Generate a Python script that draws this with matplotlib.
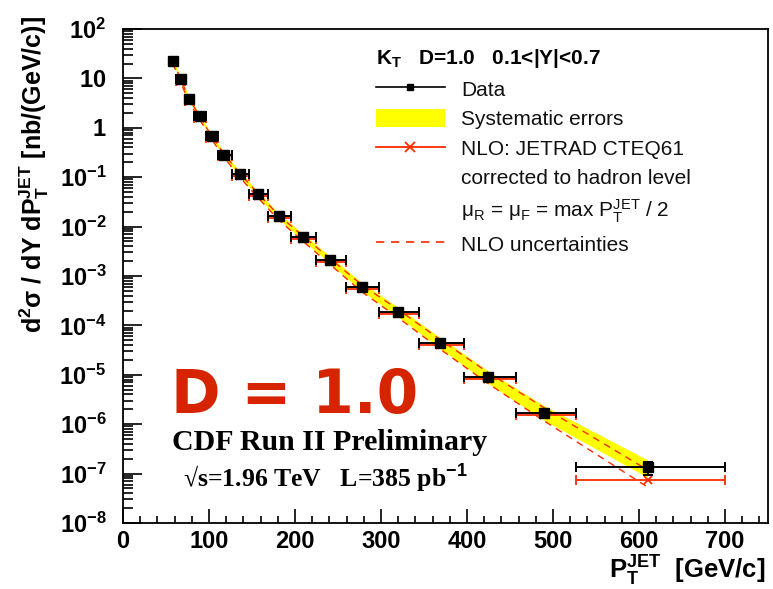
import matplotlib
matplotlib.use("Agg")
import matplotlib.pyplot as plt
import matplotlib.patches as mpatches
from matplotlib.lines import Line2D
from matplotlib.ticker import FixedLocator, LogLocator, MultipleLocator, NullFormatter
import numpy as np

plt.rcParams['font.family'] = ['Liberation Sans', 'DejaVu Sans']
plt.rcParams['mathtext.fontset'] = 'custom'
plt.rcParams['mathtext.rm'] = 'Liberation Sans'
plt.rcParams['mathtext.it'] = 'Liberation Sans:italic'
plt.rcParams['mathtext.bf'] = 'Liberation Sans:bold'
plt.rcParams['axes.unicode_minus'] = False

# CDF Run II, kT D=1.0, 0.1<|Y|<0.7
pt = [58, 67, 77, 89, 103, 118, 136, 157, 181, 209, 241, 278, 320, 369, 425, 490, 610]
bin_lo = [54, 62, 72, 83, 96, 110, 127, 146, 169, 195, 224, 259, 298, 344, 396, 457, 527]
bin_hi = [62, 72, 83, 96, 110, 127, 146, 169, 195, 224, 259, 298, 344, 396, 457, 527, 700]
xsec = [23.0, 9.6, 3.8, 1.7, 0.67, 0.28, 0.115, 0.045, 0.0163, 0.0062, 0.0021,
        6.0e-4, 1.87e-4, 4.4e-5, 9.0e-6, 1.7e-6, 1.35e-7]
stat_frac = [0.01, 0.01, 0.01, 0.01, 0.01, 0.01, 0.01, 0.01, 0.01, 0.01, 0.02,
             0.02, 0.03, 0.04, 0.06, 0.10, 0.30]
sys_up = [0.10, 0.10, 0.10, 0.10, 0.10, 0.11, 0.12, 0.13, 0.14, 0.16, 0.18,
          0.21, 0.24, 0.28, 0.32, 0.38, 0.40]
sys_dn = [0.09, 0.09, 0.09, 0.09, 0.09, 0.10, 0.11, 0.12, 0.13, 0.14, 0.16,
          0.18, 0.20, 0.23, 0.26, 0.30, 0.38]
nlo = [21.5, 8.9, 3.55, 1.6, 0.63, 0.265, 0.108, 0.042, 0.0152, 0.0057, 0.00193,
       5.5e-4, 1.7e-4, 4.0e-5, 8.2e-6, 1.5e-6, 7.4e-8]
nlo_up_frac = [0.08, 0.08, 0.08, 0.08, 0.08, 0.09, 0.10, 0.11, 0.12, 0.14, 0.16,
               0.19, 0.23, 0.28, 0.34, 0.42, 0.60]
nlo_dn_frac = [0.07, 0.07, 0.07, 0.07, 0.07, 0.08, 0.08, 0.09, 0.10, 0.11, 0.12,
               0.14, 0.16, 0.18, 0.20, 0.23, 0.28]

pt = np.array(pt, float)
xsec = np.array(xsec)
nlo = np.array(nlo)
xerr = [pt - np.array(bin_lo), np.array(bin_hi) - pt]

RED = '#ff2a00'

fig = plt.figure(figsize=(7.73, 5.89), dpi=100)
ax = fig.add_axes([0.1591, 0.1121, 0.8344, 0.8387])

# systematic band
ax.fill_between(pt, xsec * (1 - np.array(sys_dn)), xsec * (1 + np.array(sys_up)),
                color='#ffff00', lw=0, zorder=1)
# NLO uncertainties
ax.plot(pt, nlo * (1 + np.array(nlo_up_frac)), ls=(0, (5, 4)), color=RED, lw=1.0, zorder=2)
ax.plot(pt, nlo * (1 - np.array(nlo_dn_frac)), ls=(0, (5, 4)), color=RED, lw=1.0, zorder=2)
# NLO points
ax.errorbar(pt, nlo, xerr=xerr, fmt='x', color=RED, ms=6, mew=1.3, elinewidth=1.3,
            capsize=3.5, capthick=1.3, zorder=3)
# data
ax.errorbar(pt, xsec, xerr=xerr, yerr=[xsec * np.array(stat_frac), xsec * np.array(stat_frac)],
            fmt='s', color='black', ms=6.5, elinewidth=1.4, capsize=3.5, capthick=1.4, zorder=4)

ax.set_yscale('log')
ax.set_xlim(0, 750)
ax.set_ylim(1e-8, 1e2)

ax.xaxis.set_major_locator(MultipleLocator(100))
ax.xaxis.set_minor_locator(MultipleLocator(20))
ax.yaxis.set_major_locator(FixedLocator([10.0 ** k for k in range(-8, 3)]))
ax.yaxis.set_minor_locator(LogLocator(base=10, subs=np.arange(2, 10), numticks=20))
ax.yaxis.set_minor_formatter(NullFormatter())
ylabels = []
for k in range(-8, 3):
    if k == 0:
        ylabels.append(r'$\mathbf{1}$')
    elif k == 1:
        ylabels.append(r'$\mathbf{10}$')
    else:
        ylabels.append(r'$\mathbf{10^{%d}}$' % k)
ax.set_yticklabels(ylabels)

ax.tick_params(axis='both', which='both', direction='in', top=False, right=False,
               color='black', width=1.2)
ax.tick_params(axis='x', which='major', length=10, pad=5, labelsize=17)
ax.tick_params(axis='x', which='minor', length=5)
ax.tick_params(axis='y', which='major', length=14, pad=12, labelsize=17)
ax.tick_params(axis='y', which='minor', length=7)
for lab in ax.get_xticklabels():
    lab.set_fontweight('bold')
for sp in ax.spines.values():
    sp.set_linewidth(1.3)

# axis titles
fig.text(765 / 773, 1 - 588 / 589, r'$\mathbf{P_T^{JET}}$  [GeV/c]', ha='right', va='bottom',
         fontsize=18.5, fontweight='bold')
fig.text(34 / 773, 1 - 16 / 589, r'$\mathbf{d^{2}\sigma\ /\ dY\ dP_T^{JET}\ [nb/(GeV/c)]}$',
         rotation=90, ha='center', va='top', fontsize=18)

# legend
h_data = Line2D([], [], color='black', marker='s', ms=5, lw=1.2)
h_sys = mpatches.Patch(facecolor='#ffff00', edgecolor='none')
h_nlo = Line2D([], [], color=RED, marker='x', ms=7, mew=1.3, lw=1.3)
h_blank = Line2D([], [], lw=0)
h_unc = Line2D([], [], color=RED, ls=(0, (5, 4)), lw=1.2)
leg = ax.legend([h_data, h_sys, h_nlo, h_blank, h_blank, h_unc],
                ['Data', 'Systematic errors', 'NLO: JETRAD CTEQ61', 'corrected to hadron level',
                 r'μ$_{\mathrm{R}}$ = μ$_{\mathrm{F}}$ = max P$_{\mathrm{T}}^{\mathrm{JET}}$ / 2',
                 'NLO uncertainties'],
                title=r'K$_{\mathbf{T}}$   D=1.0   0.1<|Y|<0.7', alignment='left',
                title_fontproperties={'weight': 'bold', 'size': 15},
                loc='upper left', bbox_to_anchor=(376 / 773, 1 - 47 / 589),
                bbox_transform=fig.transFigure, frameon=False, fontsize=15,
                handlelength=3.3, handleheight=1.0, handletextpad=0.8,
                labelspacing=0.44, borderpad=0, borderaxespad=0)
for t in leg.get_texts():
    t.set_color('#111111')

# annotations
fig.text(171 / 773, 1 - 413 / 589, 'D = 1.0', color='#d62400', fontsize=43,
         fontweight='bold', family='DejaVu Sans', va='baseline', ha='left')
fig.text(172 / 773, 1 - 442 / 589, 'CDF Run II Preliminary', family='Liberation Serif',
         fontweight='bold', fontsize=21.5, va='center', ha='left')
fig.text(183 / 773, 1 - 479 / 589, '√s=1.96 TeV   L=385 pb$^{\\mathbf{-1}}$',
         family=['Liberation Serif', 'DejaVu Serif'], fontweight='bold', fontsize=18.5,
         va='center', ha='left')

fig.savefig('out.png', dpi=100)
